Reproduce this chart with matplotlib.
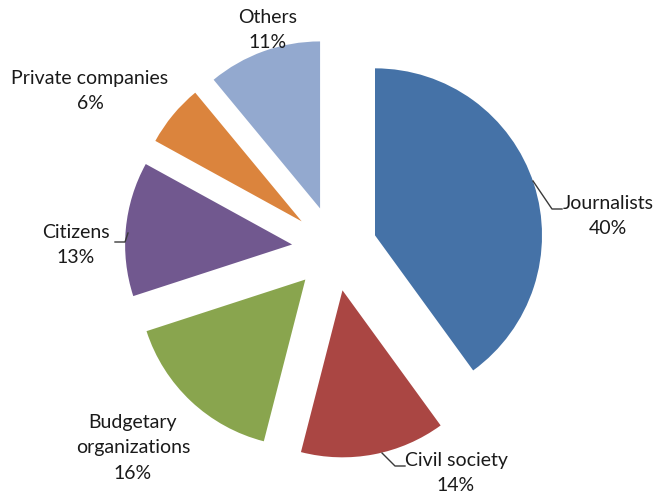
import numpy as np
import matplotlib
matplotlib.use("Agg")
import matplotlib.pyplot as plt

categories = ["Journalists", "Civil society", "Budgetary\norganizations",
              "Citizens", "Private companies", "Others"]
shares = [40, 14, 16, 13, 6, 11]
colors = ["#4572A7", "#AA4643", "#89A54E", "#71588F", "#DB843D", "#93A9CF"]

W, H = 655, 497
R = 167.0                 # pie radius in pixels
CX, CY = 334.5, 248.5     # pie centre in pixels (from top-left)


def px(x, y):
    # pixel position (from top-left) -> data coords
    return (x - CX) / R, (CY - y) / R


# label centres and leader lines, in pixels
label_pos = [(608, 216), (456, 473), (133, 448), (76, 245), (90, 91), (268, 30)]
leaders = {
    0: [(533, 181), (552, 209), (562, 209)],
    1: [(382, 453), (395, 466), (405, 466)],
    3: [(128, 233), (125, 242), (115, 242)],
}

plt.rcParams['font.family'] = ['Lato', 'DejaVu Sans']

fig = plt.figure(figsize=(W / 100, H / 100), dpi=100)
ax = fig.add_axes([0, 0, 1, 1])

ax.pie(shares, colors=colors, startangle=90, counterclock=False,
       explode=[0.255] * len(shares), radius=1,
       wedgeprops=dict(linewidth=0))

for i, (name, val) in enumerate(zip(categories, shares)):
    x, y = px(*label_pos[i])
    ax.text(x, y, f"{name}\n{val}%", ha="center", va="center",
            multialignment="center", fontsize=14, color="#1a1a1a",
            linespacing=1.6)

for pts in leaders.values():
    xs, ys = zip(*[px(*p) for p in pts])
    ax.plot(xs, ys, color="#3a3a3a", linewidth=1.0)

ax.set_xlim(-CX / R, (W - CX) / R)
ax.set_ylim(-(H - CY) / R, CY / R)
ax.set_aspect("equal")
ax.axis("off")

fig.savefig("out.png", dpi=100, facecolor="white")
